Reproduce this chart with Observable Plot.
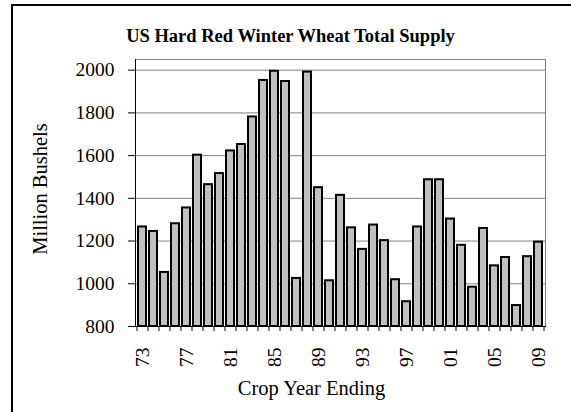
<!DOCTYPE html>
<html>
<head>
<meta charset="utf-8">
<script src="https://cdn.jsdelivr.net/npm/d3@7"></script>
<script src="https://cdn.jsdelivr.net/npm/@observablehq/plot@0.6"></script>
<style>
  html, body { margin: 0; padding: 0; background: #fff; }
  svg { display: block; }
  svg text { font-family: 'Liberation Serif', 'Times New Roman', serif !important; }
</style>
</head>
<body>
<div id="chart"></div>
<script>
const years = d3.range(1973, 2010);
const supply = [1266, 1245, 1053, 1281, 1355, 1602, 1464, 1516, 1622, 1652, 1781, 1952, 1995, 1947, 1025, 1991,
  1450, 1014, 1414, 1262, 1161, 1275, 1202, 1019, 916, 1266, 1487, 1487, 1303, 1180, 984, 1259, 1084, 1123, 898, 1127, 1195];
const labelYears = [1973, 1977, 1981, 1985, 1989, 1993, 1997, 2001, 2005, 2009];
const yTicks = [800, 1000, 1200, 1400, 1600, 1800, 2000];
const title = "US Hard Red Winter Wheat Total Supply";
const yLabel = "Million Bushels";
const xLabel = "Crop Year Ending";

const data = years.map((y, i) => ({year: y, value: supply[i]}));
const W = 571, H = 412;
const mL = 135, mR = 26, mT = 59, mB = 86;
const pad = 0.25;
const step = (W - mL - mR) / (years.length - pad + 2 * pad);
const font = "'Liberation Serif', 'Times New Roman', serif";

const plot = Plot.plot({
  width: W, height: H,
  marginLeft: mL, marginRight: mR, marginTop: mT, marginBottom: mB,
  style: {fontFamily: font, fontSize: "18px", color: "black", background: "white"},
  x: {type: "band", domain: years, padding: pad, axis: null},
  y: {domain: [800, 2050], axis: null},
  marks: [
    Plot.frame({stroke: "#808080"}),
    Plot.gridY(yTicks.filter(d => d > 800), {stroke: "#808080", strokeOpacity: 1}),
    Plot.barY(data, {x: "year", y1: 800, y2: "value", fill: "#c0c0c0", stroke: "black", strokeWidth: 2}),
    Plot.frame({anchor: "left", stroke: "black", strokeWidth: 1}),
    Plot.frame({anchor: "bottom", stroke: "black", strokeWidth: 1}),
    Plot.axisY(yTicks, {tickSize: 7, tickFormat: () => "", stroke: "black", label: null}),
    Plot.text(yTicks, {y: d => d, text: d => String(d), frameAnchor: "left", dx: -21, textAnchor: "end",
      lineAnchor: "middle", fontSize: 19.5, fontFamily: font, fill: "black"}),
    Plot.axisX(years, {tickSize: 5, tickFormat: () => "", dx: -step / 2, stroke: "black", label: null}),
    Plot.axisX([2009], {tickSize: 5, tickFormat: () => "", dx: step / 2, stroke: "black", label: null}),
    Plot.text(labelYears, {x: d => d, y: 800, text: d => String(d % 100).padStart(2, "0"),
      rotate: -90, textAnchor: "end", lineAnchor: "middle", dy: 21, fontSize: 19.5, fontFamily: font, fill: "black"}),
    Plot.text([title], {frameAnchor: "top", dx: -50, dy: -23, lineAnchor: "middle",
      fontSize: 18.5, fontWeight: "bold", fontFamily: font, fill: "black"}),
    Plot.text([yLabel], {frameAnchor: "left", dx: -95, dy: -4, rotate: -90, textAnchor: "middle", lineAnchor: "middle",
      fontSize: 20.5, fontFamily: font, fill: "black"}),
    Plot.text([xLabel], {frameAnchor: "bottom", dx: -29, dy: 62, textAnchor: "middle", lineAnchor: "middle",
      fontSize: 20.5, fontFamily: font, fill: "black"})
  ]
});

d3.select(plot).append("rect")
  .attr("x", 12).attr("y", 5).attr("width", 620).attr("height", 520)
  .attr("fill", "none").attr("stroke", "black").attr("stroke-width", 2);

document.getElementById("chart").appendChild(plot);
</script>
</body>
</html>
